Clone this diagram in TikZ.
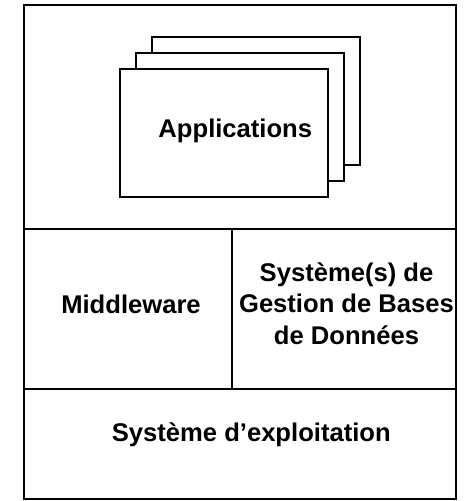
\documentclass[tikz,border=0pt]{standalone}
\usepackage{fontspec}
\setmainfont{Liberation Sans}
\begin{document}
\begin{tikzpicture}[x=1pt,y=1pt,
  frame/.style={draw=black,line width=2pt},
  sheet/.style={draw=black,fill=white,line width=2pt},
  lbl/.style={font=\bfseries\fontsize{25.6}{31.7}\selectfont,inner sep=0pt,align=center}]
\useasboundingbox (0,0) rectangle (464,501);
% outer frame and divisions
\draw[frame] (24.3,1.5) rectangle (456,496);
\coordinate (hl1) at (24.3,271.7);
\coordinate (hr1) at (456,271.7);
\coordinate (hl2) at (24.3,111.7);
\coordinate (hr2) at (456,111.7);
\coordinate (vt) at (232.3,271.7);
\coordinate (vb) at (232.3,111.7);
\draw[frame] (hl1) -- (hr1);
\draw[frame] (hl2) -- (hr2);
\draw[frame] (vt) -- (vb);
% stacked application sheets
\draw[sheet] (151.7,463.7) rectangle (360,336);
\draw[sheet] (135.7,448.3) rectangle (344,320);
\draw[sheet] (119.7,432) rectangle (328.3,304.3);
\node[lbl,anchor=base] (app) at (235.3,363.7) {Applications};
\node[lbl,anchor=base] (mw) at (131,187.7) {Middleware};
\node[lbl] (sgbd) at (346.5,197.3) {Système(s) de\\Gestion de Bases\\de Données};
\node[lbl,anchor=base] (os) at (251.3,59.3) {Système d’exploitation};
\end{tikzpicture}
\end{document}
